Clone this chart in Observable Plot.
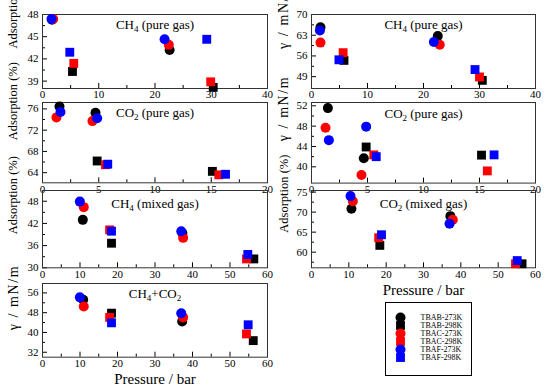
<!DOCTYPE html>
<html><head><meta charset="utf-8">
<script src="https://cdn.jsdelivr.net/npm/d3@7"></script>
<script src="https://cdn.jsdelivr.net/npm/@observablehq/plot@0.6"></script>
<style>
body{margin:0;background:#fff;}
#chart{position:relative;width:550px;height:387px;overflow:hidden;background:#fff;}
#chart svg{position:absolute;}
</style></head><body><div id="chart"></div>
<script>
const series = ["TBAB-273K","TBAB-298K","TBAC-273K","TBAC-298K","TBAF-273K","TBAF-298K"];
const seriesColors = ["#000000","#000000","#ff0000","#ff0000","#0000ff","#0000ff"];
const seriesSymbols = ["circle","square","circle","square","circle","square"];

// rows: [series, pressure (bar), value]
const ch4PureAdsorption = [
  ["TBAB-273K",1.7,47.3],["TBAB-273K",22.6,43.2],
  ["TBAB-298K",5.33,40.3],["TBAB-298K",30.35,38.15],
  ["TBAC-273K",1.9,47.4],["TBAC-273K",22.45,43.9],
  ["TBAC-298K",5.56,41.4],["TBAC-298K",29.9,38.9],
  ["TBAF-273K",1.6,47.4],["TBAF-273K",21.7,44.65],
  ["TBAF-298K",4.85,42.9],["TBAF-298K",29.2,44.65]
];
const ch4PureTension = [
  ["TBAB-273K",1.6,65.7],["TBAB-273K",22.55,62.7],
  ["TBAB-298K",5.8,54.5],["TBAB-298K",30.5,47.75],
  ["TBAC-273K",1.6,60.5],["TBAC-273K",22.9,59.8],
  ["TBAC-298K",5.65,57.1],["TBAC-298K",30.0,48.9],
  ["TBAF-273K",1.5,64.6],["TBAF-273K",21.85,60.7],
  ["TBAF-298K",4.9,54.7],["TBAF-298K",29.2,51.4]
];
const co2PureAdsorption = [
  ["TBAB-273K",1.51,76.43],["TBAB-273K",4.71,75.25],
  ["TBAB-298K",4.86,66.2],["TBAB-298K",15.1,64.25],
  ["TBAC-273K",1.24,74.4],["TBAC-273K",4.44,73.7],
  ["TBAC-298K",5.6,65.5],["TBAC-298K",15.67,63.6],
  ["TBAF-273K",1.6,75.4],["TBAF-273K",4.86,74.25],
  ["TBAF-298K",5.8,65.6],["TBAF-298K",16.27,63.7]
];
const co2PureTension = [
  ["TBAB-273K",1.46,51.55],["TBAB-273K",4.67,41.7],
  ["TBAB-298K",4.88,43.9],["TBAB-298K",15.18,42.3],
  ["TBAC-273K",1.25,47.7],["TBAC-273K",4.46,38.4],
  ["TBAC-298K",5.56,42.35],["TBAC-298K",15.7,39.2],
  ["TBAF-273K",1.55,45.25],["TBAF-273K",4.88,47.9],
  ["TBAF-298K",5.78,42.0],["TBAF-298K",16.3,42.35]
];
const ch4MixedAdsorption = [
  ["TBAB-273K",10.75,42.96],["TBAB-273K",37.3,39.4],
  ["TBAB-298K",18.4,36.65],["TBAB-298K",56.35,32.4],
  ["TBAC-273K",11.0,46.4],["TBAC-273K",37.5,38.1],
  ["TBAC-298K",17.9,40.25],["TBAC-298K",54.4,32.4],
  ["TBAF-273K",9.96,47.9],["TBAF-273K",37.0,39.9],
  ["TBAF-298K",18.4,39.9],["TBAF-298K",54.75,33.6]
];
const co2MixedAdsorption = [
  ["TBAB-273K",10.7,70.85],["TBAB-273K",37.2,69.0],
  ["TBAB-298K",18.3,61.7],["TBAB-298K",56.4,57.1],
  ["TBAC-273K",11.07,72.7],["TBAC-273K",37.85,68.1],
  ["TBAC-298K",18.0,63.6],["TBAC-298K",54.65,57.1],
  ["TBAF-273K",10.45,74.0],["TBAF-273K",36.97,67.1],
  ["TBAF-298K",18.75,64.35],["TBAF-298K",55.1,57.9]
];
const mixedTension = [
  ["TBAB-273K",10.85,53.2],["TBAB-273K",37.25,44.4],
  ["TBAB-298K",18.4,47.8],["TBAB-298K",56.2,36.7],
  ["TBAC-273K",11.0,50.5],["TBAC-273K",37.5,46.1],
  ["TBAC-298K",17.9,46.1],["TBAC-298K",54.4,39.4],
  ["TBAF-273K",9.96,54.2],["TBAF-273K",37.0,47.75],
  ["TBAF-298K",18.4,43.9],["TBAF-298K",54.85,43.1]
];

// tick values
const xTicks40 = [0,10,20,30,40], xMinor40 = [5,15,25,35];
const xTicks20 = [0,5,10,15,20], xMinor20 = [2.5,7.5,12.5,17.5];
const xTicks60 = [0,10,20,30,40,50,60], xMinor60 = [5,15,25,35,45,55];
const yTicksCh4Ads = [39,42,45,48], yMinorCh4Ads = [40.5,43.5,46.5];
const yTicksCo2Ads = [64,68,72,76], yMinorCo2Ads = [66,70,74];
const yTicksCh4Mix = [30,36,42,48], yMinorCh4Mix = [33,39,45];
const yTicksMixTen = [32,40,48,56], yMinorMixTen = [36,44,52];
const yTicksCh4Ten = [49,56,63,70], yMinorCh4Ten = [52.5,59.5,66.5];
const yTicksCo2Ten = [40,44,48,52], yMinorCo2Ten = [42,46,50];
const yTicksCo2Mix = [60,65,70,75], yMinorCo2Mix = [57.5,62.5,67.5,72.5];

const FONT = "'Liberation Serif', 'Times New Roman', serif";
const ADS = "Adsorption (%)", TEN = "γ / mN/m", PRESS = "Pressure / bar";

const panels = [
  {data: ch4PureAdsorption, title: "CH4 (pure gas)", ylabel: ADS, col: 0, frame: [42,267,14,88],
   xDomain: [0,40], xTicks: xTicks40, xMinor: xMinor40, yDomain: [38,48], yTicks: yTicksCh4Ads, yMinor: yMinorCh4Ads, titleDy: 10, labelDy: -3},
  {data: co2PureAdsorption, title: "CO2 (pure gas)", ylabel: ADS, col: 0, frame: [42,267,102,182.3],
   xDomain: [0,20], xTicks: xTicks20, xMinor: xMinor20, yDomain: [62.1,77.2], yTicks: yTicksCo2Ads, yMinor: yMinorCo2Ads, titleDy: 10, labelDy: -2.5},
  {data: ch4MixedAdsorption, title: "CH4 (mixed gas)", ylabel: ADS, col: 0, frame: [42,267,190,267.3],
   xDomain: [0,60], xTicks: xTicks60, xMinor: xMinor60, yDomain: [30,50.9], yTicks: yTicksCh4Mix, yMinor: yMinorCh4Mix, titleDy: 13, labelDy: 5},
  {data: mixedTension, title: "CH4+CO2", ylabel: TEN, xlabel: PRESS, col: 0, frame: [42,267,283,356.7],
   xDomain: [0,60], xTicks: xTicks60, xMinor: xMinor60, yDomain: [30,59.8], yTicks: yTicksMixTen, yMinor: yMinorMixTen, titleDy: 10, labelDy: 10},
  {data: ch4PureTension, title: "CH4 (pure gas)", ylabel: TEN, col: 275, frame: [311,535,14,88],
   xDomain: [0,40], xTicks: xTicks40, xMinor: xMinor40, yDomain: [45,70], yTicks: yTicksCh4Ten, yMinor: yMinorCh4Ten, titleDy: 10, labelDy: -2.5},
  {data: co2PureTension, title: "CO2 (pure gas)", ylabel: TEN, col: 275, frame: [311,535,101.7,182.3],
   xDomain: [0,20], xTicks: xTicks20, xMinor: xMinor20, yDomain: [36.8,52.65], yTicks: yTicksCo2Ten, yMinor: yMinorCo2Ten, titleDy: 11, labelDy: -1.5},
  {data: co2MixedAdsorption, title: "CO2 (mixed gas)", ylabel: ADS, xlabel: PRESS, col: 275, frame: [311,535,190,267.3],
   xDomain: [0,60], xTicks: xTicks60, xMinor: xMinor60, yDomain: [56.1,75.4], yTicks: yTicksCo2Mix, yMinor: yMinorCo2Mix, titleDy: 13, labelDy: 3.5}
];

const chart = document.getElementById("chart");

function subscriptify(svg, title) {
  d3.select(svg).selectAll("text").filter(function(){ return this.textContent === title; }).each(function(){
    const sel = d3.select(this);
    sel.text(null);
    let sub = false;
    title.split(/(\d)/).forEach(s => {
      if (!s) return;
      const isDigit = /^\d$/.test(s);
      const t = sel.append("tspan").text(s);
      if (isDigit && !sub) { t.attr("dy", 3).attr("font-size", 9); sub = true; }
      else if (isDigit) { t.attr("font-size", 9); }
      else if (sub) { t.attr("dy", -3); sub = false; }
    });
  });
}

panels.forEach(p => {
  const [x0, x1, y0, y1] = p.frame;
  const mT = 14, mB = 34;
  const mL = x0 - p.col, mR = p.col + 275 - x1;
  const innerH = y1 - y0, innerW = x1 - x0;
  const labelX = p.col === 0 ? 12.7 : 283;
  const svg = Plot.plot({
    width: 275, height: innerH + mT + mB,
    marginLeft: mL, marginRight: mR, marginTop: mT, marginBottom: mB,
    style: {background: "transparent", overflow: "visible", fontFamily: FONT, fontSize: "11px", color: "#000"},
    x: {domain: p.xDomain},
    y: {domain: p.yDomain},
    color: {domain: series, range: seriesColors},
    symbol: {domain: series, range: seriesSymbols},
    marks: [
      Plot.axisX(p.xTicks, {tickSize: 0, tickPadding: 2, label: null, fontSize: 11}),
      Plot.axisY(p.yTicks, {tickSize: 0, tickPadding: 4, label: null, fontSize: 11}),
      Plot.tickX(p.xTicks, {x: d => d, insetTop: innerH - 5, stroke: "#000"}),
      Plot.tickX(p.xMinor, {x: d => d, insetTop: innerH - 3, stroke: "#000"}),
      Plot.tickY(p.yTicks, {y: d => d, insetRight: innerW - 5, stroke: "#000"}),
      Plot.tickY(p.yMinor, {y: d => d, insetRight: innerW - 3, stroke: "#000"}),
      Plot.frame({stroke: "#333"}),
      Plot.dot(p.data, {x: d => d[1], y: d => d[2], fill: d => d[0], symbol: d => d[0], r: 5, stroke: "none"}),
      Plot.text([p.title], {frameAnchor: "top", dy: p.titleDy, lineAnchor: "middle", fontSize: 13}),
      Plot.text([p.ylabel], {frameAnchor: "left", dx: labelX - x0, dy: p.labelDy, rotate: -90, fontSize: p.ylabel === TEN ? 14 : 12.5}),
      p.xlabel ? Plot.text([p.xlabel], {frameAnchor: "bottom", dy: 22, lineAnchor: "middle", fontSize: 15}) : null
    ]
  });
  svg.style.left = p.col + "px";
  svg.style.top = (y0 - mT) + "px";
  subscriptify(svg, p.title);
  // the γ label in the reference is set wider
  d3.select(svg).selectAll("text").filter(function(){ return this.textContent === TEN; })
    .attr("textLength", 64).attr("lengthAdjust", "spacing");
  chart.appendChild(svg);
});

const legend = Plot.plot({
  width: 86, height: 73, margin: 0,
  style: {background: "#fff", overflow: "visible", fontFamily: FONT, color: "#000"},
  x: {domain: [0, 1], axis: null},
  y: {type: "point", domain: series, insetTop: 10.7, insetBottom: 13.7, axis: null},
  color: {domain: series, range: seriesColors},
  symbol: {domain: series, range: seriesSymbols},
  marks: [
    Plot.frame({stroke: "#000"}),
    Plot.dot(series, {y: d => d, frameAnchor: "left", dx: 15, fill: d => d, symbol: d => d, r: 5}),
    Plot.text(series, {y: d => d, frameAnchor: "left", dx: 35, textAnchor: "start", fontSize: 8})
  ]
});
legend.style.left = "385px";
legend.style.top = "302px";
chart.appendChild(legend);
</script></body></html>
